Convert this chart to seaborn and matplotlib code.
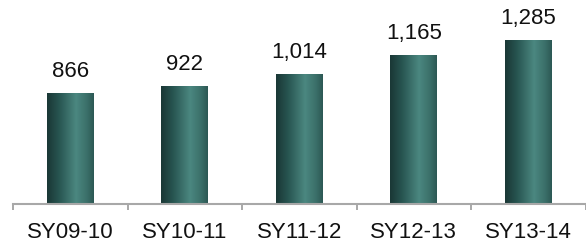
import matplotlib
matplotlib.use("Agg")
import matplotlib.pyplot as plt
import seaborn as sns
import numpy as np
import pandas as pd
from matplotlib.colors import LinearSegmentedColormap

categories = ["SY09-10", "SY10-11", "SY11-12", "SY12-13", "SY13-14"]
values = [866, 922, 1014, 1165, 1285]
value_labels = ["866", "922", "1,014", "1,165", "1,285"]

sns.set_theme(style="white")
plt.rcParams["font.family"] = ["Liberation Sans", "DejaVu Sans"]

df = pd.DataFrame({"year": categories, "count": values})

fig = plt.figure(figsize=(5.86, 2.45), dpi=100)
ax = fig.add_axes([13 / 586, 1 - 204 / 245, (585.5 - 13) / 586, 204 / 245])

sns.barplot(data=df, x="year", y="count", color="#2f6660", width=0.41,
            ax=ax, saturation=1)

cmap = LinearSegmentedColormap.from_list(
    "cyl", [(0.0, "#1a3735"), (0.25, "#275450"), (0.62, "#4b8780"),
            (0.85, "#3b706a"), (1.0, "#2c5854")])
grad = np.linspace(0, 1, 256).reshape(1, -1)
for p in ax.patches:
    x0, y0 = p.get_x(), p.get_y()
    w, h = p.get_width(), p.get_height()
    im = ax.imshow(grad, cmap=cmap, aspect="auto",
                   extent=[x0, x0 + w, y0, y0 + h], zorder=p.get_zorder() + 0.1)
    im.set_clip_path(p)
    p.set_edgecolor("none")

for i, (v, lab) in enumerate(zip(values, value_labels)):
    ax.annotate(lab, (i, v), xytext=(0, 8), textcoords="offset points",
                ha="center", va="bottom", fontsize=16, color="#111111")

ax.set_xlim(-0.5, 4.5)
ax.set_ylim(0, 1597)
ax.set_xlabel("")
ax.set_ylabel("")
ax.set_yticks([])
ax.set_xticks(np.arange(-0.5, 5, 1), minor=False)
ax.set_xticklabels([])
ax.set_xticks(range(5), minor=True)
ax.set_xticklabels(categories, minor=True, fontsize=16, color="#111111")
ax.tick_params(axis="x", which="major", direction="out", length=4,
               width=1.2, color="#9a9a9a", bottom=True)
ax.tick_params(axis="x", which="minor", length=0, pad=13, bottom=True)
for s in ["top", "right", "left"]:
    ax.spines[s].set_visible(False)
ax.spines["bottom"].set_color("#a8a8a8")
ax.spines["bottom"].set_linewidth(1.5)

fig.savefig("out.png", dpi=100)
